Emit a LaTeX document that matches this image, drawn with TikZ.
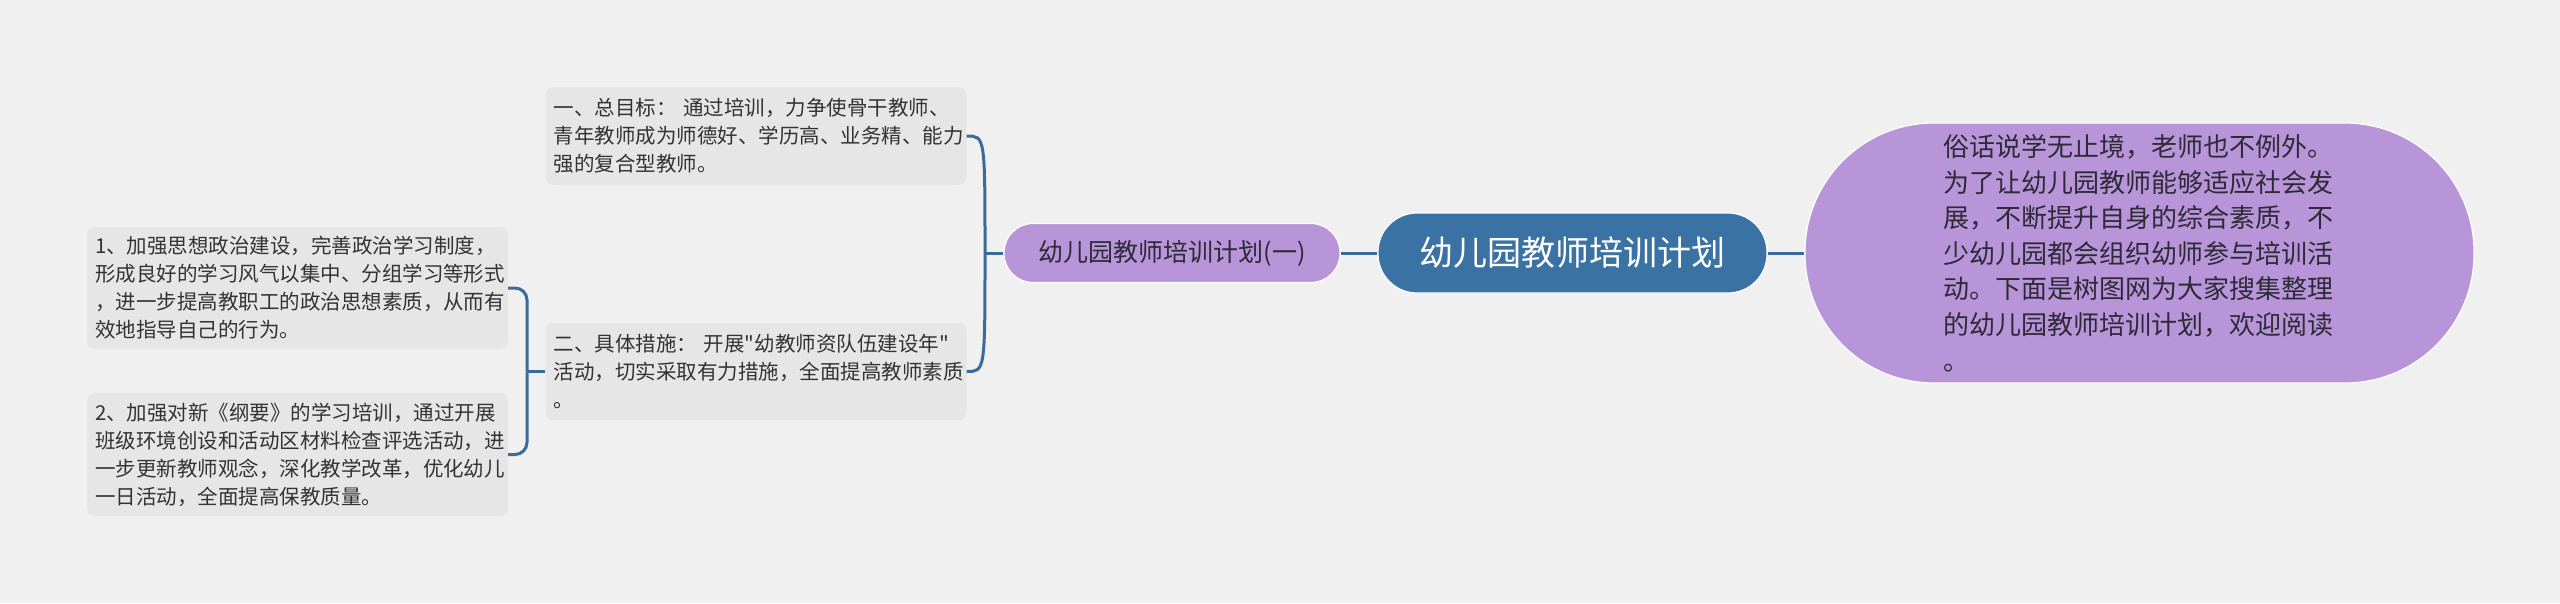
\documentclass[tikz,border=0pt]{standalone}
\usepackage{fontspec}
\setmainfont{Noto Sans CJK SC}[Ligatures=TeXOff]
\usetikzlibrary{calc}

\definecolor{bgcol}{HTML}{F0F0F0}
\definecolor{rootblue}{HTML}{3B72A4}
\definecolor{lilac}{HTML}{B795D8}
\definecolor{boxgray}{HTML}{E6E6E6}
\definecolor{linkblue}{HTML}{3A6B99}
\definecolor{inkgray}{HTML}{333333}
\definecolor{lilacink}{HTML}{2E2A38}

\tikzset{
  topicbox/.style={fill=boxgray, rounded corners=8pt, text=inkgray,
    text width=405pt, inner xsep=8pt, align=left,
    font=\fontsize{20.5}{28}\selectfont},
  pill/.style={draw=white, line width=1.2pt, align=center},
  link/.style={draw=linkblue, line width=3pt},
}

\begin{document}
\begin{tikzpicture}[x=1pt,y=-1pt]
    \fill[bgcol] (0,0) rectangle (2560,603);

    \node[pill, fill=rootblue, text=white, minimum width=389pt, minimum height=80pt,
      rounded corners=39pt, font=\fontsize{34}{40}\selectfont] (root) at (1572.5,253) {幼儿园教师培训计划};
    \node[pill, fill=lilac, text=lilacink, minimum width=669pt, minimum height=260pt,
      rounded corners=129pt, text width=392pt, align=left,
      font=\fontsize{26}{35.6}\selectfont] (intro) at (2139.5,253)
      {俗话说学无止境，老师也不例外。\\为了让幼儿园教师能够适应社会发\\展，不断提升自身的综合素质，不\\少幼儿园都会组织幼师参与培训活\\动。下面是树图网为大家搜集整理\\的幼儿园教师培训计划，欢迎阅读\\。};
    \node[pill, fill=lilac, text=lilacink, minimum width=336pt, minimum height=59pt,
      rounded corners=29pt, font=\fontsize{25}{30}\selectfont] (part) at (1172,253) {幼儿园教师培训计划(一)};

    \node[topicbox, minimum height=98pt] (goal) at (756,136)
      {一、总目标：~通过培训，力争使骨干教师、\\青年教师成为师德好、学历高、业务精、能力\\强的复合型教师。};
    \node[topicbox, minimum height=97pt] (measure) at (756,371.5)
      {二、具体措施：~开展"幼教师资队伍建设年"\\活动，切实采取有力措施，全面提高教师素质\\。};
    \node[topicbox, minimum height=122pt] (item1) at (297.5,288)
      {1、加强思想政治建设，完善政治学习制度，\\形成良好的学习风气以集中、分组学习等形式\\，进一步提高教职工的政治思想素质，从而有\\效地指导自己的行为。};
    \node[topicbox, minimum height=123pt] (item2) at (297.5,454.5)
      {2、加强对新《纲要》的学习培训，通过开展\\班级环境创设和活动区材料检查评选活动，进\\一步更新教师观念，深化教学改革，优化幼儿\\一日活动，全面提高保教质量。};

    \coordinate (pj) at (985,253);
    \coordinate (mj) at (527,371.5);

    \draw[link] (root.east) -- (intro.west);
    \draw[link] (root.west) -- (part.east);
    \draw[link] (part.west) -- (pj);
    \draw[link] (pj) .. controls (pj |- goal.east) .. (goal.east);
    \draw[link] (pj) .. controls (pj |- measure.east) .. (measure.east);
    \draw[link] (measure.west) -- (mj);
    \draw[link, rounded corners=12pt] (mj) |- (item1.east);
    \draw[link, rounded corners=12pt] (mj) |- (item2.east);
\end{tikzpicture}
\end{document}
